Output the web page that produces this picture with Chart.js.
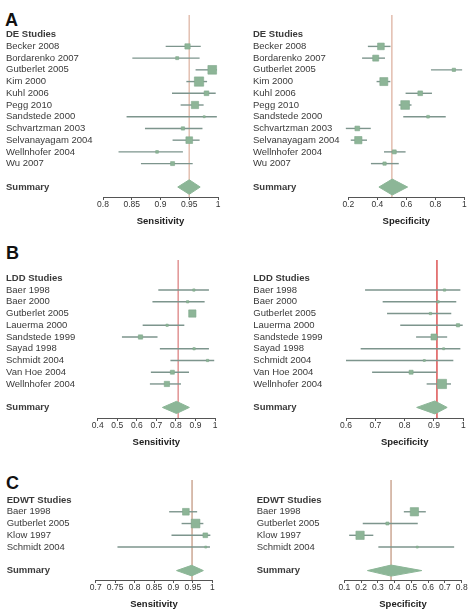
<!DOCTYPE html>
<html><head><meta charset="utf-8">
<script src="https://cdn.jsdelivr.net/npm/chart.js@4.4.0/dist/chart.umd.min.js"></script>
<style>
html,body{margin:0;padding:0;background:#fff;}
body{width:475px;height:616px;position:relative;overflow:hidden;font-family:"Liberation Sans",Arial,sans-serif;}
canvas{position:absolute;}
.lt{position:absolute;font-weight:bold;font-size:18px;line-height:18px;color:#111;}
</style></head><body>
<div class="lt" style="left:5px;top:11px">A</div>
<div class="lt" style="left:6px;top:244px">B</div>
<div class="lt" style="left:6px;top:474px">C</div>
<canvas id="cAL" width="235" height="227" style="left:0;top:0"></canvas>
<canvas id="cAR" width="240" height="227" style="left:235px;top:0"></canvas>
<canvas id="cBL" width="235" height="208" style="left:0;top:240px"></canvas>
<canvas id="cBR" width="240" height="208" style="left:235px;top:240px"></canvas>
<canvas id="cCL" width="235" height="150" style="left:0;top:460px"></canvas>
<canvas id="cCR" width="240" height="150" style="left:235px;top:460px"></canvas>
<script>
// ---------- Panel A: DE studies ----------
const deStudies = ["Becker 2008","Bordarenko 2007","Gutberlet 2005","Kim 2000","Kuhl 2006","Pegg 2010","Sandstede 2000","Schvartzman 2003","Selvanayagam 2004","Wellnhofer 2004","Wu 2007"];
const deSens   = [0.947,0.929,0.990,0.967,0.980,0.960,0.976,0.939,0.950,0.894,0.921];
const deSensLo = [0.909,0.851,0.961,0.945,0.920,0.935,0.841,0.873,0.921,0.827,0.866];
const deSensHi = [0.970,0.968,0.998,0.981,0.996,0.975,0.998,0.973,0.968,0.939,0.956];
const deSensW  = [5.3,3,8.7,9.3,4.7,7.3,2,3.3,6.7,2.7,4];
const deSensSummary = [0.950,0.930,0.969];
const deSensRef = 0.95;
const deSpec   = [0.425,0.389,0.928,0.445,0.696,0.592,0.750,0.262,0.269,0.517,0.450];
const deSpecLo = [0.335,0.295,0.770,0.395,0.595,0.548,0.579,0.183,0.217,0.446,0.356];
const deSpecHi = [0.491,0.453,0.985,0.490,0.777,0.636,0.872,0.355,0.329,0.595,0.548];
const deSpecW  = [6.7,6,3.3,8,4.7,8.7,2.7,4.7,7.3,4,3.3];
const deSpecSummary = [0.503,0.411,0.609];
const deSpecRef = 0.50;
const sensTicksA = [0.8,0.85,0.9,0.95,1];
const specTicksA = [0.2,0.4,0.6,0.8,1];

// ---------- Panel B: LDD studies ----------
const lddStudies = ["Baer 1998","Baer 2000","Gutberlet 2005","Lauerma 2000","Sandstede 1999","Sayad 1998","Schmidt 2004","Van Hoe 2004","Wellnhofer 2004"];
const lddSens   = [0.892,0.860,0.884,0.755,0.619,0.893,0.962,0.782,0.754];
const lddSensLo = [0.710,0.680,0.870,0.630,0.524,0.718,0.772,0.672,0.667];
const lddSensHi = [0.969,0.947,0.898,0.843,0.706,0.969,0.996,0.867,0.826];
const lddSensW  = [2.3,2.3,7.3,2.3,4.3,2.3,2.3,4,5.3];
const lddSensSummary = [0.803,0.731,0.869];
const lddSensRef = 0.812;
const lddSpec   = [0.936,0.914,0.888,0.982,0.900,0.933,0.867,0.822,0.927];
const lddSpecLo = [0.665,0.725,0.740,0.785,0.839,0.650,0.600,0.689,0.875];
const lddSpecHi = [0.990,0.976,0.959,0.998,0.945,0.990,0.966,0.909,0.958];
const lddSpecW  = [2.3,2.3,2.3,3.3,6,2,2,4,9.3];
const lddSpecSummary = [0.903,0.841,0.945];
const lddSpecRef = 0.910;
const sensTicksB = [0.4,0.5,0.6,0.7,0.8,0.9,1];
const specTicksB = [0.6,0.7,0.8,0.9,1];

// ---------- Panel C: EDWT studies ----------
const edwtStudies = ["Baer 1998","Gutberlet 2005","Klow 1997","Schmidt 2004"];
const edwtSens   = [0.932,0.957,0.982,0.983];
const edwtSensLo = [0.889,0.921,0.895,0.756];
const edwtSensHi = [0.961,0.977,0.995,0.994];
const edwtSensW  = [6.7,8.7,4.7,2];
const edwtSensSummary = [0.947,0.908,0.977];
const edwtSensRef = 0.948;
const edwtSpec   = [0.518,0.357,0.194,0.535];
const edwtSpecLo = [0.455,0.210,0.129,0.303];
const edwtSpecHi = [0.586,0.538,0.273,0.755];
const edwtSpecW  = [8.3,3,8.3,2];
const edwtSpecSummary = [0.379,0.238,0.562];
const edwtSpecRef = 0.379;
const sensTicksC = [0.7,0.75,0.8,0.85,0.9,0.95,1];
const specTicksC = [0.1,0.2,0.3,0.4,0.5,0.6,0.7,0.8];

// ---------- styling ----------
const FAM = '"Liberation Sans", Arial, sans-serif';
const SQ = '#8db597', SQB = '#7fa88b', CI = '#7d958d', DIA = '#8cb697';

function panel(id, o) {
  const n = o.studies.length;
  const rows = [0];
  for (let i = 1; i <= n; i++) rows.push(i);
  rows.push(n + 2);
  const labels = [o.header].concat(o.studies, ['Summary']);
  const sRow = n + 2;
  const ds = [];
  const [sc, sl, sh] = o.summary;
  ds.push({data:[{x:sl,y:sRow},{x:sc,y:sRow-o.dh},{x:sh,y:sRow},{x:sc,y:sRow+o.dh},{x:sl,y:sRow}],
    showLine:true, fill:'shape', backgroundColor:DIA, borderColor:DIA, borderWidth:1, pointRadius:0, tension:0, order:0, clip:false});
  ds.push({data:o.est.map((v,i)=>({x:v,y:i+1})), pointStyle:'rect',
    pointRadius:o.w.map(s=>s/Math.SQRT2), backgroundColor:SQ, borderColor:SQB, borderWidth:0.6, order:1, clip:false});
  for (let i = 0; i < n; i++) {
    ds.push({data:[{x:o.lo[i],y:i+1},{x:o.hi[i],y:i+1}], showLine:true, borderColor:CI, borderWidth:1.4,
      pointRadius:0, order:2, clip:false});
  }
  ds.push({data:[{x:o.ref,y:o.yMin},{x:o.ref,y:o.yMax}], showLine:true, borderColor:o.refColor, borderWidth:1,
    pointRadius:0, order:3, clip:false});
  new Chart(document.getElementById(id), {
    type:'scatter',
    data:{datasets:ds},
    options:{
      responsive:false, animation:false, events:[],
      layout:{padding:{left:o.pl, right:o.pr, top:o.pt, bottom:0}},
      plugins:{legend:{display:false}, tooltip:{enabled:false}},
      scales:{
        x:{type:'linear', position:'bottom', min:o.ticks[0], max:o.ticks[o.ticks.length-1],
          afterBuildTicks:s=>{ s.ticks = o.ticks.map(v=>({value:v})); },
          afterFit:s=>{ s.height = 30; },
          grid:{display:true, drawOnChartArea:false, drawTicks:true, tickLength:3, color:'#555', lineWidth:1},
          border:{display:true, color:'#555', width:1},
          ticks:{autoSkip:false, maxRotation:0, padding:0, color:'#333', font:{family:FAM, size:8.5},
            callback:(v,i)=>String(o.ticks[i])},
          title:{display:true, text:o.title, color:'#222', padding:0, font:{family:FAM, size:9.5, weight:'bold'}}
        },
        y:{type:'linear', reverse:true, min:o.yMin, max:o.yMax,
          afterBuildTicks:s=>{ s.ticks = rows.map(v=>({value:v})); },
          afterFit:s=>{ s.width = o.yw; },
          grid:{display:false}, border:{display:false},
          ticks:{autoSkip:false, padding:0, crossAlign:'far', color:'#3a3a3a',
            font:(c)=>({family:FAM, size:9.5, weight:(c.index===0||c.index===labels.length-1)?'bold':'normal'}),
            callback:(v,i)=>labels[i]}
        }
      }
    }
  });
}

panel('cAL',{header:'DE Studies', studies:deStudies, est:deSens, lo:deSensLo, hi:deSensHi, w:deSensW,
  summary:deSensSummary, ref:deSensRef, ticks:sensTicksA, title:'Sensitivity',
  pl:6, pr:17, pt:15, yw:97, yMin:-1.68, yMax:13.85, refColor:'#e4c2b4', dh:0.62});
panel('cAR',{header:'DE Studies', studies:deStudies, est:deSpec, lo:deSpecLo, hi:deSpecHi, w:deSpecW,
  summary:deSpecSummary, ref:deSpecRef, ticks:specTicksA, title:'Specificity',
  pl:18, pr:10.7, pt:15, yw:95.3, yMin:-1.68, yMax:13.85, refColor:'#e4c2b4', dh:0.68});
panel('cBL',{header:'LDD Studies', studies:lddStudies, est:lddSens, lo:lddSensLo, hi:lddSensHi, w:lddSensW,
  summary:lddSensSummary, ref:lddSensRef, ticks:sensTicksB, title:'Sensitivity',
  pl:6, pr:20, pt:20, yw:91.7, yMin:-1.56, yMax:11.9, refColor:'#e29a9a', dh:0.52});
panel('cBR',{header:'LDD Studies', studies:lddStudies, est:lddSpec, lo:lddSpecLo, hi:lddSpecHi, w:lddSpecW,
  summary:lddSpecSummary, ref:lddSpecRef, ticks:specTicksB, title:'Specificity',
  pl:18.3, pr:11.7, pt:20, yw:92.7, yMin:-1.56, yMax:11.9, refColor:'#e06a6a', dh:0.55});
panel('cCL',{header:'EDWT Studies', studies:edwtStudies, est:edwtSens, lo:edwtSensLo, hi:edwtSensHi, w:edwtSensW,
  summary:edwtSensSummary, ref:edwtSensRef, ticks:sensTicksC, title:'Sensitivity',
  pl:6.7, pr:22.7, pt:20, yw:89, yMin:-1.7, yMax:6.8, refColor:'#d3b4a2', dh:0.45});
panel('cCR',{header:'EDWT Studies', studies:edwtStudies, est:edwtSpec, lo:edwtSpecLo, hi:edwtSpecHi, w:edwtSpecW,
  summary:edwtSpecSummary, ref:edwtSpecRef, ticks:specTicksC, title:'Specificity',
  pl:21.7, pr:13.3, pt:20, yw:87.6, yMin:-1.7, yMax:6.8, refColor:'#d3b4a2', dh:0.47});
</script>
</body></html>
